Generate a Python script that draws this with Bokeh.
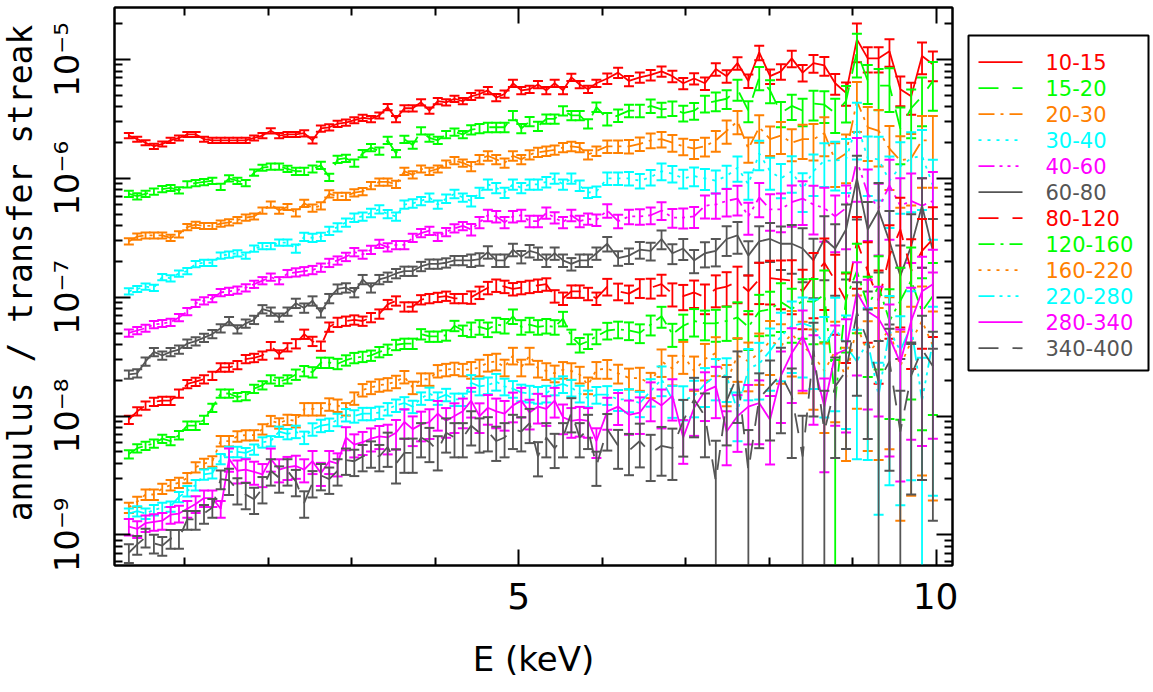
import math
from bokeh.plotting import figure
from bokeh.layouts import row
from bokeh.models import (Range1d, FixedTicker, LinearAxis, LogAxis,
                          CustomJSTickFormatter, ColumnDataSource)
from bokeh.core.properties import value
from bokeh.embed import file_html
from bokeh.resources import INLINE

# ---------------- data ----------------
energy = [0.33, 0.43, 0.53, 0.63, 0.73, 0.83, 0.93, 1.03, 1.13, 1.23,
          1.33, 1.43, 1.53, 1.63, 1.73, 1.83, 1.93, 2.03, 2.13, 2.23,
          2.33, 2.43, 2.53, 2.63, 2.73, 2.83, 2.93, 3.03, 3.13, 3.23,
          3.33, 3.43, 3.53, 3.63, 3.73, 3.83, 3.93, 4.03, 4.13, 4.23,
          4.33, 4.43, 4.53, 4.63, 4.73, 4.83, 4.93, 5.03, 5.13, 5.23,
          5.33, 5.43, 5.53, 5.63, 5.73, 5.83, 5.93,
          6.06, 6.19, 6.32, 6.45, 6.58, 6.71, 6.84, 6.97, 7.10, 7.23,
          7.36, 7.49, 7.62, 7.75, 7.88, 8.01, 8.14, 8.27, 8.40, 8.53,
          8.66, 8.79, 8.92, 9.05, 9.18, 9.31, 9.44, 9.57, 9.70, 9.83, 9.96]

labels = ["10-15", "15-20", "20-30", "30-40", "40-60", "60-80",
          "80-120", "120-160", "160-220", "220-280", "280-340", "340-400"]

# log10 of annulus / transfer streak ratio
log_10_15 = [-5.64, -5.67, -5.70, -5.73, -5.71, -5.68, -5.66, -5.63, -5.63, -5.67,
             -5.68, -5.68, -5.68, -5.68, -5.68, -5.66, -5.64, -5.60, -5.64, -5.63,
             -5.63, -5.62, -5.68, -5.58, -5.57, -5.54, -5.53, -5.51, -5.49, -5.50,
             -5.47, -5.40, -5.50, -5.41, -5.41, -5.36, -5.43, -5.35, -5.36, -5.33,
             -5.35, -5.31, -5.29, -5.26, -5.32, -5.29, -5.20, -5.26, -5.25, -5.21,
             -5.26, -5.20, -5.26, -5.15, -5.21, -5.25, -5.20,
             -5.16, -5.11, -5.18, -5.15, -5.13, -5.10, -5.14, -5.20, -5.16, -5.20,
             -5.08, -5.14, -5.03, -5.18, -4.94, -5.14, -5.10, -4.99, -5.11, -5.03,
             -5.05, -5.20, -5.28, -4.83, -4.99, -4.99, -4.93, -5.25, -5.31, -4.97, -5.04]
log_15_20 = [-6.13, -6.15, -6.13, -6.11, -6.09, -6.08, -6.10, -6.05, -6.04, -6.03,
             -6.02, -6.07, -6.00, -6.02, -6.04, -5.95, -5.91, -5.90, -5.90, -5.92,
             -5.94, -5.94, -5.92, -5.89, -5.99, -5.84, -5.83, -5.87, -5.79, -5.74,
             -5.77, -5.68, -5.79, -5.67, -5.72, -5.60, -5.66, -5.68, -5.63, -5.61,
             -5.63, -5.59, -5.58, -5.57, -5.57, -5.57, -5.47, -5.58, -5.52, -5.56,
             -5.50, -5.50, -5.43, -5.47, -5.47, -5.54, -5.40,
             -5.50, -5.47, -5.43, -5.43, -5.39, -5.42, -5.41, -5.45, -5.43, -5.37,
             -5.35, -5.33, -5.25, -5.43, -5.15, -5.26, -5.45, -5.39, -5.43, -5.37,
             -5.38, -5.45, -5.35, -4.93, -5.18, -5.22, -5.22, -5.58, -5.41, -5.31, -5.18]
log_20_30 = [-6.53, -6.49, -6.48, -6.48, -6.48, -6.50, -6.47, -6.41, -6.39, -6.40,
             -6.40, -6.38, -6.37, -6.35, -6.33, -6.32, -6.27, -6.22, -6.27, -6.24,
             -6.29, -6.21, -6.25, -6.23, -6.13, -6.15, -6.15, -6.12, -6.11, -6.06,
             -6.03, -6.03, -6.05, -5.94, -5.97, -5.92, -5.94, -5.92, -5.88, -5.85,
             -5.87, -5.90, -5.84, -5.81, -5.84, -5.87, -5.81, -5.84, -5.80, -5.78,
             -5.77, -5.76, -5.74, -5.73, -5.74, -5.80, -5.77,
             -5.73, -5.73, -5.73, -5.71, -5.68, -5.67, -5.70, -5.73, -5.75, -5.73,
             -5.68, -5.60, -5.52, -5.75, -5.57, -5.67, -5.64, -5.70, -5.67, -5.67,
             -5.62, -5.85, -5.79, -5.35, -5.57, -5.60, -5.75, -5.85, -5.83, -5.68, -5.68]
log_30_40 = [-6.95, -6.93, -6.91, -6.92, -6.83, -6.84, -6.80, -6.78, -6.72, -6.71,
             -6.71, -6.65, -6.64, -6.63, -6.65, -6.59, -6.57, -6.57, -6.54, -6.54,
             -6.59, -6.49, -6.50, -6.49, -6.44, -6.41, -6.37, -6.33, -6.32, -6.29,
             -6.26, -6.30, -6.32, -6.22, -6.21, -6.19, -6.16, -6.22, -6.17, -6.13,
             -6.16, -6.19, -6.12, -6.05, -6.08, -6.12, -6.05, -6.08, -6.05, -6.05,
             -6.03, -6.00, -6.05, -6.00, -6.06, -6.12, -6.11,
             -6.00, -6.00, -6.00, -6.02, -5.99, -5.94, -5.96, -6.00, -5.98, -6.00,
             -6.02, -5.98, -5.91, -6.05, -5.79, -5.94, -6.00, -5.94, -6.09, -5.94,
             -5.85, -5.85, -5.84, -5.54, -5.83, -5.84, -6.02, -5.90, -5.83, -5.81, -6.06]
log_40_60 = [-7.30, -7.28, -7.26, -7.23, -7.22, -7.21, -7.17, -7.12, -7.05, -7.03,
             -7.01, -6.96, -6.95, -6.94, -6.92, -6.89, -6.86, -6.83, -6.86, -6.80,
             -6.79, -6.78, -6.77, -6.75, -6.71, -6.69, -6.66, -6.62, -6.64, -6.60,
             -6.55, -6.58, -6.56, -6.56, -6.50, -6.46, -6.44, -6.49, -6.45, -6.42,
             -6.40, -6.43, -6.37, -6.31, -6.32, -6.37, -6.32, -6.31, -6.36, -6.36,
             -6.29, -6.33, -6.37, -6.31, -6.36, -6.34, -6.35,
             -6.27, -6.36, -6.32, -6.32, -6.31, -6.27, -6.33, -6.33, -6.32, -6.23,
             -6.22, -6.19, -6.17, -6.32, -6.16, -6.26, -6.26, -6.20, -6.17, -6.22,
             -6.25, -6.32, -6.25, -5.85, -6.13, -6.25, -6.06, -6.23, -6.19, -6.23, -6.19]
log_60_80 = [-7.65, -7.64, -7.54, -7.46, -7.49, -7.46, -7.44, -7.39, -7.37, -7.34,
             -7.31, -7.26, -7.20, -7.27, -7.22, -7.19, -7.10, -7.12, -7.17, -7.12,
             -7.05, -7.09, -7.03, -7.13, -7.01, -6.93, -6.92, -6.96, -6.85, -6.92,
             -6.85, -6.83, -6.80, -6.78, -6.78, -6.74, -6.72, -6.72, -6.71, -6.69,
             -6.69, -6.69, -6.68, -6.62, -6.69, -6.69, -6.60, -6.66, -6.61, -6.63,
             -6.69, -6.63, -6.69, -6.72, -6.69, -6.69, -6.63,
             -6.55, -6.67, -6.65, -6.60, -6.61, -6.51, -6.63, -6.59, -6.69, -6.63,
             -6.61, -6.51, -6.48, -6.65, -6.53, -6.51, -6.55, -6.55, -6.59, -6.69,
             -6.51, -6.59, -6.43, -6.00, -6.43, -6.27, -6.53, -6.82, -6.57, -6.23, -6.61]
log_80_120 = [-8.03, -7.96, -7.91, -7.88, -7.87, -7.87, -7.81, -7.73, -7.71, -7.69,
              -7.66, -7.59, -7.59, -7.57, -7.52, -7.51, -7.49, -7.41, -7.48, -7.42,
              -7.39, -7.31, -7.37, -7.41, -7.25, -7.21, -7.20, -7.19, -7.20, -7.17,
              -7.14, -7.06, -7.03, -7.08, -7.08, -7.02, -7.01, -7.00, -6.99, -7.01,
              -7.01, -7.00, -6.96, -6.92, -6.90, -6.91, -6.93, -6.92, -6.91, -6.90,
              -6.89, -6.99, -7.01, -6.95, -6.95, -6.97, -7.01,
              -6.91, -6.95, -6.97, -6.92, -6.92, -6.89, -6.97, -6.99, -6.96, -7.00,
              -6.93, -6.91, -6.87, -6.95, -6.85, -6.84, -6.85, -6.86, -6.95, -6.82,
              -6.71, -6.86, -7.03, -6.53, -6.78, -7.03, -6.65, -6.43, -6.78, -6.61, -6.51]
log_120_160 = [-8.32, -8.27, -8.25, -8.23, -8.19, -8.21, -8.16, -8.08, -8.08, -8.03,
               -7.93, -7.81, -7.81, -7.84, -7.83, -7.77, -7.74, -7.69, -7.71, -7.69,
               -7.65, -7.62, -7.63, -7.55, -7.55, -7.56, -7.53, -7.51, -7.50, -7.49,
               -7.46, -7.44, -7.40, -7.39, -7.39, -7.31, -7.33, -7.33, -7.32, -7.24,
               -7.28, -7.27, -7.25, -7.27, -7.23, -7.24, -7.16, -7.25, -7.23, -7.25,
               -7.24, -7.25, -7.18, -7.33, -7.40, -7.37, -7.33,
               -7.28, -7.27, -7.28, -7.30, -7.23, -7.16, -7.31, -7.24, -7.20, -7.22,
               -7.22, -7.20, -7.17, -7.25, -7.12, -7.10, -7.04, -7.10, -7.03, -7.04,
               -6.98, -7.87, -7.01, -6.78, -7.07, -6.91, -7.20, -7.03, -6.86, -7.12, -6.99]
log_160_220 = [-8.77, -8.72, -8.66, -8.66, -8.61, -8.58, -8.56, -8.52, -8.43, -8.40,
               -8.38, -8.21, -8.21, -8.17, -8.16, -8.16, -8.11, -8.04, -8.06, -8.03,
               -8.04, -7.94, -7.94, -7.94, -7.90, -7.91, -7.94, -7.85, -7.78, -7.76,
               -7.74, -7.73, -7.71, -7.67, -7.76, -7.69, -7.69, -7.62, -7.61, -7.60,
               -7.61, -7.61, -7.59, -7.55, -7.54, -7.59, -7.49, -7.59, -7.49, -7.60,
               -7.62, -7.64, -7.61, -7.62, -7.65, -7.74, -7.61,
               -7.60, -7.64, -7.68, -7.68, -7.73, -7.54, -7.60, -7.49, -7.62, -7.52,
               -7.47, -7.71, -7.49, -7.54, -7.47, -7.37, -7.41, -7.31, -7.41, -7.49,
               -7.62, -7.45, -7.68, -7.24, -7.47, -7.37, -7.28, -7.58, -7.37, -7.20, -7.41]
log_220_280 = [-8.82, -8.80, -8.82, -8.79, -8.77, -8.76, -8.68, -8.63, -8.58, -8.49,
               -8.48, -8.36, -8.30, -8.30, -8.31, -8.28, -8.22, -8.21, -8.13, -8.15,
               -8.13, -8.18, -8.11, -8.08, -8.07, -8.03, -7.99, -8.00, -7.98, -7.98,
               -7.97, -7.94, -7.91, -7.89, -7.92, -7.85, -7.81, -7.85, -7.82, -7.86,
               -7.86, -7.72, -7.75, -7.74, -7.71, -7.75, -7.77, -7.80, -7.81, -7.82,
               -7.81, -7.75, -7.73, -7.76, -7.81, -7.85, -7.82,
               -7.82, -7.86, -7.86, -7.89, -7.79, -7.69, -7.86, -7.87, -7.83, -7.73,
               -7.66, -7.66, -7.96, -7.60, -7.56, -7.45, -7.33, -7.24, -7.22, -7.25,
               -7.41, -7.26, -7.41, -7.54, -7.37, -7.83, -7.28, -7.45, -7.24, -7.87, -7.37]
log_280_340 = [-8.93, -8.95, -8.90, -8.89, -8.88, -8.83, -8.82, -8.78, -8.74, -8.69,
               -8.69, -8.78, -8.36, -8.46, -8.45, -8.47, -8.49, -8.36, -8.45, -8.43,
               -8.42, -8.45, -8.38, -8.48, -8.38, -8.40, -8.18, -8.24, -8.22, -8.19,
               -8.17, -8.18, -8.14, -8.05, -8.11, -8.07, -8.05, -7.98, -8.04, -8.00,
               -7.96, -7.87, -8.00, -7.93, -7.96, -7.98, -7.91, -7.87, -7.97, -7.92,
               -7.94, -7.87, -8.01, -8.04, -8.03, -8.04, -8.21,
               -7.96, -7.92, -7.99, -7.97, -7.85, -7.91, -7.83, -8.18, -7.93, -7.79,
               -7.75, -8.13, -8.00, -7.92, -7.89, -8.03, -7.66, -7.47, -7.33, -7.55,
               -7.92, -7.48, -7.44, -6.96, -7.12, -7.18, -7.34, -7.55, -7.20, -6.95, -6.89]
log_340_400 = [-9.15, -9.08, -9.02, -9.07, -9.09, -9.03, -9.03, -8.87, -8.87, -8.82,
               -8.77, -8.53, -8.54, -8.62, -8.66, -8.70, -8.61, -8.46, -8.52, -8.46,
               -8.55, -8.73, -8.56, -8.50, -8.53, -8.46, -8.37, -8.38, -8.34, -8.31,
               -8.34, -8.26, -8.40, -8.31, -8.31, -8.18, -8.22, -8.29, -8.14, -8.18,
               -8.18, -8.08, -8.14, -8.13, -8.21, -8.18, -8.11, -8.13, -8.06, -8.34,
               -8.18, -8.27, -8.18, -7.97, -8.18, -8.11, -8.42,
               -8.11, -8.25, -8.29, -8.21, -8.31, -8.25, -8.27, -8.04, -7.86, -8.00,
               -8.55, -7.87, -7.66, -8.46, -7.85, -7.75, -7.65, -7.83, -8.34, -7.45,
               -8.13, -7.75, -7.62, -7.13, -7.37, -7.71, -7.54, -8.13, -7.66, -7.44, -7.58]

# relative 1-sigma errors, percent
err_10_15 = [5, 5, 5, 5, 5, 5, 5, 5, 5, 5, 5, 5, 5, 5, 5, 5, 5, 5, 5, 5,
             5, 6, 6, 6, 6, 6, 6, 6, 6, 6, 6, 6, 6, 6, 6, 6, 6, 6, 6, 6,
             6, 7, 7, 7, 7, 7, 7, 7, 7, 7, 7, 7, 7, 7, 7, 7, 7,
             10, 10, 10, 10, 10, 10, 11, 11, 11, 12, 12, 12, 12, 13, 14, 14, 15, 16, 16, 17,
             18, 20, 22, 36, 24, 24, 26, 28, 30, 30, 28]
err_15_20 = [6, 6, 6, 6, 6, 6, 6, 6, 6, 6, 6, 6, 6, 6, 6, 6, 6, 6, 6, 6,
             7, 7, 7, 7, 7, 7, 7, 7, 7, 7, 7, 7, 7, 7, 7, 7, 7, 7, 7, 7,
             7, 9, 9, 9, 9, 9, 9, 9, 9, 9, 9, 9, 9, 9, 9, 9, 9,
             12, 12, 12, 12, 13, 14, 14, 15, 16, 16, 18, 18, 20, 20, 22, 22, 24, 24, 26, 28,
             30, 32, 34, 40, 36, 38, 40, 50, 44, 44, 44]
err_20_30 = [6, 6, 6, 6, 6, 6, 6, 6, 6, 6, 6, 6, 6, 6, 6, 6, 6, 6, 6, 6,
             7, 7, 7, 7, 7, 7, 7, 7, 7, 7, 7, 7, 7, 7, 7, 7, 7, 7, 7, 7,
             7, 9, 9, 9, 9, 9, 9, 9, 9, 9, 9, 9, 9, 9, 9, 9, 9,
             12, 12, 13, 13, 14, 15, 16, 16, 18, 18, 20, 22, 22, 24, 26, 28, 30, 30, 32, 34,
             36, 40, 44, 45, 48, 50, 55, 60, 60, 60, 60]
err_30_40 = [6, 6, 6, 6, 6, 6, 6, 6, 6, 6, 6, 6, 6, 6, 6, 6, 6, 6, 6, 6,
             8, 8, 8, 8, 8, 8, 8, 8, 8, 8, 8, 8, 8, 8, 8, 8, 8, 8, 8, 8,
             8, 10, 10, 10, 10, 10, 10, 10, 10, 10, 10, 10, 10, 10, 10, 10, 10,
             12, 12, 13, 14, 15, 16, 16, 18, 18, 20, 22, 22, 24, 26, 28, 30, 32, 34, 36, 38,
             40, 44, 48, 50, 52, 55, 60, 60, 65, 65, 65]
err_40_60 = [7, 7, 7, 7, 7, 7, 7, 7, 7, 7, 7, 7, 7, 7, 7, 7, 7, 7, 7, 7,
             8, 8, 8, 8, 8, 8, 8, 8, 8, 8, 8, 8, 8, 8, 8, 8, 8, 8, 8, 8,
             8, 11, 11, 11, 11, 11, 11, 11, 11, 11, 11, 11, 11, 11, 11, 11, 11,
             13, 13, 14, 15, 16, 17, 18, 19, 20, 22, 24, 26, 28, 30, 32, 34, 36, 38, 40, 44,
             48, 50, 55, 55, 60, 60, 65, 70, 70, 70, 75]
err_60_80 = [8, 8, 8, 8, 8, 8, 8, 8, 8, 8, 8, 8, 8, 8, 8, 8, 8, 8, 8, 8,
             9, 9, 9, 9, 9, 9, 9, 9, 9, 9, 9, 9, 9, 9, 9, 9, 9, 9, 9, 9,
             9, 12, 12, 12, 12, 12, 12, 12, 12, 12, 12, 12, 12, 12, 12, 12, 12,
             14, 14, 15, 16, 17, 18, 19, 20, 22, 24, 26, 28, 30, 32, 34, 36, 40, 44, 48, 52,
             55, 60, 62, 55, 70, 70, 80, 80, 85, 70, 85]
err_80_120 = [8, 8, 8, 8, 8, 8, 8, 8, 8, 8, 8, 8, 8, 8, 8, 8, 8, 8, 8, 8,
              9, 9, 9, 9, 9, 9, 9, 9, 9, 9, 9, 9, 9, 9, 9, 9, 9, 9, 9, 9,
              9, 12, 12, 12, 12, 12, 12, 12, 12, 12, 12, 12, 12, 12, 12, 12, 12,
              16, 16, 17, 18, 19, 20, 22, 24, 26, 28, 30, 32, 34, 36, 38, 40, 44, 48, 52, 56,
              60, 65, 70, 60, 75, 80, 80, 85, 85, 85, 85]
err_120_160 = [8, 8, 8, 8, 8, 8, 8, 8, 8, 8, 8, 8, 8, 8, 8, 8, 8, 8, 8, 8,
               10, 10, 10, 10, 10, 10, 10, 10, 10, 10, 10, 10, 10, 10, 10, 10, 10, 10, 10, 10,
               10, 14, 14, 14, 14, 14, 14, 14, 14, 14, 14, 14, 14, 14, 14, 14, 14,
               16, 16, 17, 18, 19, 20, 22, 24, 26, 28, 30, 32, 34, 36, 38, 40, 44, 48, 52, 56,
               60, 120, 65, 70, 75, 80, 85, 90, 90, 90, 90]
err_160_220 = [10, 10, 10, 10, 10, 10, 10, 10, 10, 10, 10, 10, 10, 10, 10, 10, 10, 10, 10, 10,
               12, 12, 12, 12, 12, 12, 12, 12, 12, 12, 12, 12, 12, 12, 12, 12, 12, 12, 12, 12,
               12, 16, 16, 16, 16, 16, 16, 16, 16, 16, 16, 16, 16, 16, 16, 16, 16,
               18, 18, 20, 22, 24, 26, 28, 30, 32, 34, 36, 38, 40, 44, 46, 48, 52, 56, 60, 65,
               70, 75, 80, 80, 85, 90, 90, 95, 95, 95, 95]
err_220_280 = [10, 10, 10, 10, 10, 10, 10, 10, 10, 10, 10, 10, 10, 10, 10, 10, 10, 10, 10, 10,
               12, 12, 12, 12, 12, 12, 12, 12, 12, 12, 12, 12, 12, 12, 12, 12, 12, 12, 12, 12,
               12, 16, 16, 16, 16, 16, 16, 16, 16, 16, 16, 16, 16, 16, 16, 16, 16,
               18, 20, 22, 24, 26, 28, 30, 32, 34, 36, 38, 40, 44, 46, 50, 54, 58, 60, 65, 70,
               75, 80, 80, 85, 90, 90, 95, 95, 95, 130, 95]
err_280_340 = [16, 16, 16, 16, 16, 16, 16, 16, 16, 16, 16, 16, 22, 22, 22, 22, 22, 22, 22, 22,
               22, 22, 22, 22, 22, 22, 22, 22, 22, 22, 22, 28, 28, 28, 28, 28, 28, 28, 28, 28,
               28, 28, 28, 28, 28, 28, 28, 28, 28, 28, 28, 28, 28, 28, 28, 28, 28,
               30, 30, 32, 34, 36, 36, 38, 40, 42, 44, 46, 48, 50, 52, 55, 58, 60, 62, 65, 70,
               72, 75, 80, 80, 85, 85, 90, 90, 90, 95, 95]
err_340_400 = [18, 18, 18, 18, 18, 18, 18, 18, 18, 18, 18, 18, 25, 25, 25, 25, 25, 25, 25, 25,
               25, 25, 25, 25, 25, 25, 25, 25, 25, 25, 25, 32, 32, 32, 32, 32, 32, 32, 32, 32,
               32, 32, 32, 32, 32, 32, 32, 32, 32, 32, 32, 32, 32, 32, 32, 32, 32,
               34, 36, 38, 40, 42, 44, 46, 50, 52, 55, 120, 58, 60, 120, 62, 65, 68, 70, 120, 72,
               120, 75, 78, 80, 85, 120, 88, 120, 90, 92, 95]

series_logs = [log_10_15, log_15_20, log_20_30, log_30_40, log_40_60, log_60_80,
               log_80_120, log_120_160, log_160_220, log_220_280, log_280_340, log_340_400]
series_errs = [err_10_15, err_15_20, err_20_30, err_30_40, err_40_60, err_60_80,
               err_80_120, err_120_160, err_160_220, err_220_280, err_280_340, err_340_400]

# ---------------- styles ----------------
RED, GREEN, ORANGE, CYAN, MAGENTA, GRAY = "#ff0000", "#00ff00", "#ff8000", "#00ffff", "#ff00ff", "#555555"
colors = [RED, GREEN, ORANGE, CYAN, MAGENTA, GRAY, RED, GREEN, ORANGE, CYAN, MAGENTA, GRAY]
SOLID, DASH, DASHDOT, DOT, DASHDOT3 = "solid", "20 14", "16 6 3 6", "3 6", "16 5 3 5 3 5 3 5"
dashes = [SOLID, DASH, DASHDOT, DOT, DASHDOT3, SOLID, DASH, DASHDOT, DOT, DASHDOT3, SOLID, DASH]

FONT = "DejaVu Sans"
FIG_H = 692
TOP_B, BOTTOM_B = 7, 127
FRAME_H = FIG_H - TOP_B - BOTTOM_B
LABEL_W = 40


def bare_panel(width, x_end, y_flip):
    f = figure(width=width, height=FIG_H, x_range=Range1d(0, x_end),
               y_range=Range1d(FRAME_H, 0) if y_flip else Range1d(0, FRAME_H),
               output_backend="svg", toolbar_location=None,
               min_border_left=0, min_border_right=0,
               min_border_top=TOP_B, min_border_bottom=BOTTOM_B,
               x_axis_location=None, y_axis_location=None,
               background_fill_color="white", border_fill_color="white")
    f.grid.visible = False
    f.outline_line_color = None
    return f


# ---------------- y-axis title panel ----------------
ylab = bare_panel(LABEL_W, LABEL_W, y_flip=False)
ylab.text(x=[19.5], y=[FRAME_H - 265.5], text=["annulus / transfer streak"], angle=math.pi / 2,
          text_align="center", text_baseline="middle", text_color="black",
          text_font=value("DejaVu Sans Mono"), text_font_size="33px")

# ---------------- main plot ----------------
p = figure(width=958 - LABEL_W, height=FIG_H,
           x_range=Range1d(0.158, 10.195), y_range=Range1d(5.53e-10, 2.74e-5),
           y_axis_type="log", output_backend="svg", toolbar_location=None,
           min_border_left=114 - LABEL_W, min_border_right=6,
           min_border_top=TOP_B, min_border_bottom=BOTTOM_B,
           background_fill_color="white", border_fill_color="white")
p.xgrid.visible = False
p.ygrid.visible = False
p.outline_line_color = "black"
p.outline_line_width = 2

x_major = [5, 10]
x_minor = [1, 2, 3, 4, 6, 7, 8, 9]
y_major = [1e-9, 1e-8, 1e-7, 1e-6, 1e-5]
y_minor = [m * 10.0 ** e for e in range(-10, -4) for m in range(2, 10)]


def style_axis(ax, major_len=16, minor_len=8):
    ax.axis_line_width = 2
    ax.axis_line_color = "black"
    ax.major_tick_in = major_len
    ax.major_tick_out = 0
    ax.minor_tick_in = minor_len
    ax.minor_tick_out = 0
    ax.major_tick_line_width = 2
    ax.minor_tick_line_width = 2
    ax.major_tick_line_color = "black"
    ax.minor_tick_line_color = "black"


xa = p.xaxis[0]
style_axis(xa)
xa.ticker = FixedTicker(ticks=x_major, minor_ticks=x_minor)
xa.major_label_text_font = FONT
xa.major_label_text_font_size = "36px"
xa.major_label_text_color = "black"
xa.major_label_standoff = 17
xa.axis_label = "E (keV)"
xa.axis_label_text_font = FONT
xa.axis_label_text_font_size = "34px"
xa.axis_label_text_font_style = "normal"
xa.axis_label_text_color = "black"
xa.axis_label_standoff = 27

ya = p.yaxis[0]
style_axis(ya)
ya.ticker = FixedTicker(ticks=y_major, minor_ticks=y_minor)
ya.formatter = CustomJSTickFormatter(code="""
const e = Math.round(Math.log10(tick));
const sup = {"-9": "\u207b\u2079", "-8": "\u207b\u2078", "-7": "\u207b\u2077",
             "-6": "\u207b\u2076", "-5": "\u207b\u2075"};
return "10" + (sup[String(e)] || "");
""")
ya.major_label_orientation = "vertical"
ya.major_label_text_font = FONT
ya.major_label_text_font_size = "34px"
ya.major_label_text_color = "black"
ya.major_label_standoff = 27
ya.axis_label = None

# mirrored tick marks (top and right) without labels: only "minor" ticks are used
for side, AxisCls, majors, minors in (("above", LinearAxis, x_major, x_minor),
                                      ("right", LogAxis, y_major, y_minor)):
    ax_big = AxisCls(ticker=FixedTicker(ticks=[], minor_ticks=majors), major_label_standoff=0)
    style_axis(ax_big, major_len=0, minor_len=16)
    p.add_layout(ax_big, side)
    ax_small = AxisCls(ticker=FixedTicker(ticks=[], minor_ticks=minors), major_label_standoff=0)
    style_axis(ax_small, major_len=0, minor_len=8)
    ax_small.axis_line_color = None
    p.add_layout(ax_small, side)

for logs, errs, c, d in zip(series_logs, series_errs, colors, dashes):
    assert len(logs) == len(energy) and len(errs) == len(energy)
    yv = [10.0 ** v for v in logs]
    up = [v * (1 + e / 100.0) for v, e in zip(yv, errs)]
    lo = [max(v * (1 - e / 100.0), 1e-13) for v, e in zip(yv, errs)]
    src = ColumnDataSource(dict(x=energy, y=yv, upper=up, lower=lo))
    p.segment(x0="x", y0="lower", x1="x", y1="upper", source=src,
              line_color=c, line_width=1.8)
    p.scatter(x="x", y="upper", source=src, marker="dash", size=10,
              line_color=c, line_width=2)
    p.scatter(x="x", y="lower", source=src, marker="dash", size=10,
              line_color=c, line_width=2)
    p.line(x="x", y="y", source=src, line_color=c, line_width=1.8, line_dash=d)

# ---------------- legend panel ----------------
leg = bare_panel(192, 192, y_flip=True)
leg.quad(left=[10], right=[190], top=[28], bottom=[363], fill_color=None,
         line_color="black", line_width=2)
for k, (lab, c, d) in enumerate(zip(labels, colors, dashes)):
    yk = 54.7 + 26.0 * k
    leg.line(x=[20, 64], y=[yk, yk], line_color=c, line_width=1.8, line_dash=d)
    leg.text(x=[87], y=[yk], text=[lab], text_color=c, text_font=value(FONT),
             text_font_size="21px", text_baseline="middle", text_align="left")

layout = row(ylab, p, leg)
open("out.html", "w").write(file_html(layout, INLINE, title="annulus / transfer streak"))
